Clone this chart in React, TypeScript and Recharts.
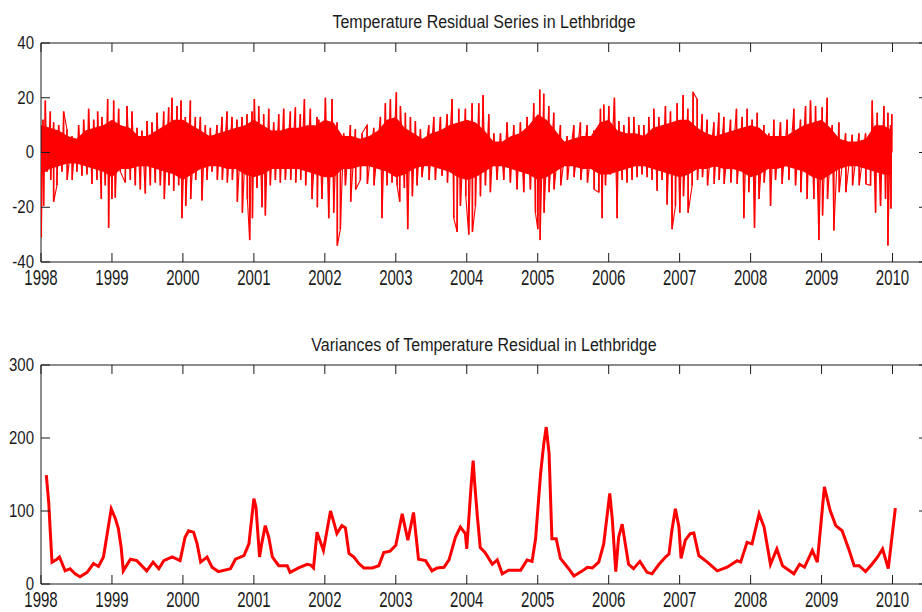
import React from 'react';
import { ComposedChart, Line, Bar, Area, XAxis, YAxis, ReferenceArea } from 'recharts';

// year ticks shared by both panels
const YEAR_TICKS = [1998, 1999, 2000, 2001, 2002, 2003, 2004, 2005, 2006, 2007, 2008, 2009, 2010];
const RESIDUAL_TICKS = [-40, -20, 0, 20, 40];
const VARIANCE_TICKS = [0, 100, 200, 300];

const TOP_TITLE = 'Temperature Residual Series in Lethbridge';
const BOTTOM_TITLE = 'Variances of Temperature Residual in Lethbridge';

// residual series: daily spikes [year, value]
const residualHighs1998 = [
  [1998.028, 12], [1998.061, 19], [1998.131, 15], [1998.178, 11], [1998.249, 10], [1998.319, 15], [1998.366, 8.5],
  [1998.437, 6], [1998.483, 5], [1998.53, 10], [1998.601, 12], [1998.671, 16], [1998.742, 12], [1998.798, 15],
  [1998.859, 13], [1998.939, 19.5], [1998.977, 10], [1999.024, 19], [1999.094, 16], [1999.212, 17], [1999.282, 15],
  [1999.353, 9], [1999.423, 8], [1999.494, 11.5], [1999.564, 11], [1999.635, 14.5], [1999.729, 15], [1999.799, 16.5],
  [1999.846, 20], [1999.917, 17], [1999.973, 19], [2000.034, 13], [2000.105, 19], [2000.175, 13], [2000.246, 13],
  [2000.316, 10], [2000.387, 9], [2000.48, 10], [2000.551, 13], [2000.621, 15], [2000.692, 13], [2000.762, 12],
  [2000.833, 13], [2000.903, 14], [2000.974, 15], [2001.007, 19.5], [2001.068, 17], [2001.138, 14], [2001.209, 16],
  [2001.279, 11], [2001.35, 14], [2001.42, 16], [2001.514, 15], [2001.585, 16.5], [2001.655, 14], [2001.712, 19.5],
  [2001.796, 16], [2001.89, 13],
];
const residualHighs2002 = [
  [2001.914, 12], [2002.008, 20], [2002.102, 19.5], [2002.172, 11], [2002.266, 7], [2002.36, 10], [2002.43, 8.5],
  [2002.524, 7], [2002.595, 10], [2002.689, 9], [2002.783, 13], [2002.853, 18], [2002.924, 19.5], [2003.008, 22],
  [2003.065, 17], [2003.135, 14.5], [2003.206, 13], [2003.276, 11.5], [2003.347, 8.5], [2003.464, 10], [2003.535, 13],
  [2003.629, 13], [2003.723, 14], [2003.793, 19.5], [2003.887, 16], [2003.981, 16], [2004.075, 18], [2004.169, 18],
  [2004.23, 21], [2004.31, 14], [2004.381, 7], [2004.475, 7], [2004.568, 11], [2004.662, 10], [2004.756, 11],
  [2004.85, 13], [2004.944, 18], [2005.029, 23], [2005.085, 21.5], [2005.156, 17], [2005.226, 14.5], [2005.32, 10],
  [2005.414, 6], [2005.508, 10], [2005.602, 11], [2005.696, 10], [2005.79, 8], [2005.884, 16],
];
const residualHighs2006 = [
  [2005.931, 17.5], [2006.002, 17], [2006.081, 20], [2006.143, 11.5], [2006.213, 10], [2006.283, 13], [2006.354, 13],
  [2006.424, 10], [2006.495, 10], [2006.565, 13], [2006.636, 16], [2006.706, 13], [2006.8, 17], [2006.871, 15],
  [2006.965, 18], [2007.049, 21], [2007.115, 16], [2007.19, 22], [2007.247, 19.5], [2007.317, 14], [2007.388, 12],
  [2007.482, 11], [2007.552, 14.5], [2007.623, 13], [2007.717, 12], [2007.801, 16], [2007.881, 13], [2007.952, 16],
  [2008.022, 12], [2008.093, 14.5], [2008.187, 10], [2008.257, 7], [2008.327, 12], [2008.421, 11], [2008.515, 12],
  [2008.609, 16], [2008.703, 12], [2008.774, 17], [2008.844, 19], [2008.915, 17], [2009.009, 16.5], [2009.079, 20],
  [2009.15, 10], [2009.244, 11], [2009.338, 7], [2009.432, 6.5], [2009.526, 7], [2009.62, 7], [2009.714, 19],
  [2009.784, 14.5], [2009.878, 17], [2009.935, 14.5], [2009.972, 10], [2009.99, 14],
];
const residualLows1998 = [
  [1998.004, -31], [1998.037, -19.5], [1998.084, -7], [1998.137, -10], [1998.178, -18], [1998.225, -12], [1998.296, -7],
  [1998.37, -10], [1998.44, -10], [1998.507, -7], [1998.577, -8.5], [1998.648, -8], [1998.718, -11.5], [1998.789, -10],
  [1998.85, -17], [1998.906, -12], [1998.953, -27.5], [1999.0, -17], [1999.047, -16.5], [1999.118, -7], [1999.188, -11],
  [1999.259, -10], [1999.329, -12], [1999.4, -13.5], [1999.47, -15], [1999.541, -12], [1999.611, -11], [1999.682, -12],
  [1999.738, -17], [1999.803, -12], [1999.87, -14], [1999.94, -12], [1999.987, -24], [2000.04, -19.5], [2000.11, -17],
  [2000.18, -10], [2000.269, -17.5], [2000.34, -10], [2000.41, -7], [2000.485, -10], [2000.556, -10], [2000.626, -11],
  [2000.697, -10], [2000.767, -18], [2000.838, -22], [2000.908, -17], [2000.941, -32], [2000.98, -24], [2001.044, -13],
  [2001.115, -20], [2001.162, -23], [2001.232, -12], [2001.303, -10], [2001.373, -11], [2001.444, -10], [2001.519, -10],
  [2001.59, -11], [2001.66, -10], [2001.73, -12], [2001.82, -17], [2001.895, -20],
];
const residualLows2002 = [
  [2001.961, -17], [2002.055, -24], [2002.125, -22], [2002.176, -34], [2002.219, -28], [2002.29, -12], [2002.365, -18],
  [2002.435, -13.5], [2002.501, -10], [2002.6, -11.5], [2002.694, -12], [2002.806, -24], [2002.877, -12], [2002.947, -11],
  [2003.018, -12], [2003.055, -18], [2003.121, -13], [2003.168, -28], [2003.234, -16], [2003.3, -12], [2003.37, -9],
  [2003.469, -10], [2003.558, -10], [2003.652, -8.5], [2003.728, -11], [2003.817, -24], [2003.864, -29], [2003.911, -19.5],
  [2003.986, -16], [2004.028, -30], [2004.08, -29], [2004.122, -19.5], [2004.193, -16], [2004.263, -12], [2004.333, -14.5],
  [2004.427, -10], [2004.521, -10], [2004.615, -11], [2004.709, -13.5], [2004.803, -14.5], [2004.897, -13.5], [2004.968, -22],
  [2005.001, -28], [2005.034, -32], [2005.09, -22], [2005.161, -14.5], [2005.231, -13.5], [2005.325, -12], [2005.419, -10],
  [2005.513, -9], [2005.607, -10], [2005.701, -11], [2005.795, -13.5], [2005.861, -14.5],
];
const residualLows2006 = [
  [2005.908, -24], [2005.955, -12], [2006.025, -8], [2006.119, -24], [2006.19, -10], [2006.26, -11], [2006.33, -10],
  [2006.401, -9], [2006.471, -8], [2006.542, -9], [2006.612, -10], [2006.683, -14], [2006.753, -10], [2006.824, -19],
  [2006.894, -28], [2006.941, -19.5], [2007.002, -22], [2007.054, -16], [2007.12, -22], [2007.176, -12], [2007.252, -10],
  [2007.322, -9], [2007.393, -12], [2007.487, -11.5], [2007.557, -10], [2007.628, -11.5], [2007.722, -11], [2007.811, -11.5],
  [2007.905, -24], [2007.975, -14.5], [2008.055, -27.5], [2008.12, -17], [2008.192, -11], [2008.281, -19.5], [2008.351, -10],
  [2008.445, -11.5], [2008.539, -10], [2008.633, -12], [2008.708, -14.5], [2008.797, -17], [2008.891, -17], [2008.962, -32],
  [2009.014, -23], [2009.084, -17], [2009.173, -28.5], [2009.249, -14.5], [2009.343, -14.5], [2009.437, -12], [2009.531, -12],
  [2009.625, -11.5], [2009.69, -12], [2009.761, -22], [2009.831, -19.5], [2009.901, -17], [2009.935, -34], [2009.978, -20.5],
];

// dense band that the daily lines fill solid around zero [year, low, high]
const residualCore = [
  [1998.0, -8, 10], [1998.125, -6, 9], [1998.25, -5, 8], [1998.375, -4, 6], [1998.5, -4, 5], [1998.625, -5, 8],
  [1998.75, -6, 9], [1998.875, -7, 10], [1999.0, -9, 12], [1999.125, -6, 10], [1999.25, -6, 9], [1999.375, -5, 6],
  [1999.5, -5, 6], [1999.625, -6, 8], [1999.75, -7, 10], [1999.875, -8, 12], [2000.0, -10, 12], [2000.125, -8, 10],
  [2000.25, -6, 8], [2000.375, -5, 6], [2000.5, -5, 7], [2000.625, -6, 8], [2000.75, -6, 9], [2000.875, -8, 10],
  [2001.0, -9, 12], [2001.125, -8, 10], [2001.25, -6, 8], [2001.375, -6, 8], [2001.5, -6, 9], [2001.625, -6, 9],
  [2001.75, -7, 10], [2001.875, -8, 10], [2002.0, -9, 12], [2002.125, -9, 11], [2002.25, -6, 6], [2002.375, -6, 6],
  [2002.5, -5, 5], [2002.625, -5, 6], [2002.75, -6, 8], [2002.875, -7, 12], [2003.0, -9, 13], [2003.125, -8, 9],
  [2003.25, -6, 7], [2003.375, -5, 5], [2003.5, -5, 7], [2003.625, -6, 8], [2003.75, -7, 10], [2003.875, -9, 11],
  [2004.0, -10, 12], [2004.125, -9, 11], [2004.25, -7, 8], [2004.375, -5, 4], [2004.5, -5, 4], [2004.625, -6, 6],
  [2004.75, -7, 7], [2004.875, -8, 10], [2005.0, -10, 14], [2005.125, -9, 12], [2005.25, -7, 8], [2005.375, -5, 4],
  [2005.5, -5, 5], [2005.625, -6, 6], [2005.75, -6, 6], [2005.875, -8, 11], [2006.0, -8, 12], [2006.125, -7, 8],
  [2006.25, -6, 7], [2006.375, -5, 7], [2006.5, -5, 6], [2006.625, -6, 9], [2006.75, -7, 10], [2006.875, -8, 11],
  [2007.0, -9, 12], [2007.125, -8, 12], [2007.25, -6, 9], [2007.375, -6, 7], [2007.5, -5, 6], [2007.625, -6, 7],
  [2007.75, -6, 8], [2007.875, -7, 9], [2008.0, -9, 10], [2008.125, -8, 9], [2008.25, -6, 6], [2008.375, -6, 6],
  [2008.5, -5, 6], [2008.625, -6, 8], [2008.75, -7, 10], [2008.875, -9, 11], [2009.0, -10, 12], [2009.125, -8, 9],
  [2009.25, -6, 5], [2009.375, -5, 4], [2009.5, -5, 4], [2009.625, -6, 5], [2009.75, -7, 10], [2009.875, -8, 10],
  [2009.99, -8, 8],
];

// variance series [year, value]
const variance1998 = [
  [1998.075, 149], [1998.11, 110], [1998.13, 73], [1998.155, 30], [1998.225, 34], [1998.26, 37], [1998.34, 18],
  [1998.41, 21], [1998.48, 14], [1998.55, 10], [1998.65, 16], [1998.74, 28], [1998.81, 24], [1998.88, 37],
  [1998.94, 73], [1998.99, 103], [1999.05, 89], [1999.09, 76], [1999.13, 50], [1999.16, 18], [1999.26, 34],
  [1999.35, 32], [1999.49, 18], [1999.58, 30], [1999.66, 21], [1999.73, 32], [1999.85, 37], [1999.96, 32],
  [2000.03, 64], [2000.08, 73], [2000.15, 71], [2000.2, 55], [2000.25, 30], [2000.34, 37], [2000.41, 23],
  [2000.5, 17], [2000.67, 21], [2000.74, 34], [2000.86, 39], [2000.93, 55], [2001.0, 117], [2001.03, 105],
  [2001.08, 37], [2001.11, 55], [2001.16, 80], [2001.21, 64], [2001.26, 37], [2001.35, 25], [2001.47, 25],
  [2001.51, 16], [2001.63, 22], [2001.75, 27], [2001.8, 26], [2001.84, 22], [2001.89, 71], [2001.98, 46],
];
const variance2002 = [
  [2002.08, 100], [2002.125, 85], [2002.17, 69], [2002.24, 80], [2002.29, 77], [2002.34, 42], [2002.41, 37],
  [2002.48, 28], [2002.55, 22], [2002.67, 22], [2002.76, 25], [2002.83, 43], [2002.92, 45], [2003.0, 53],
  [2003.09, 96], [2003.17, 60], [2003.25, 98], [2003.32, 34], [2003.42, 32], [2003.51, 18], [2003.58, 22],
  [2003.68, 23], [2003.75, 33], [2003.84, 64], [2003.91, 78], [2003.98, 69], [2004.0, 48], [2004.06, 133],
  [2004.09, 169], [2004.11, 140], [2004.15, 92], [2004.19, 50], [2004.26, 43], [2004.36, 27], [2004.43, 33],
  [2004.5, 14], [2004.59, 19], [2004.76, 19], [2004.85, 33], [2004.92, 31], [2004.97, 62], [2005.04, 151],
  [2005.085, 192], [2005.12, 215], [2005.16, 179], [2005.2, 62], [2005.26, 62], [2005.32, 35], [2005.42, 23],
  [2005.51, 11], [2005.63, 18], [2005.7, 23], [2005.77, 22], [2005.86, 30], [2005.93, 55],
];
const variance2006 = [
  [2006.015, 124], [2006.05, 90], [2006.1, 17], [2006.14, 64], [2006.19, 82], [2006.28, 27], [2006.35, 21],
  [2006.44, 31], [2006.54, 16], [2006.61, 14], [2006.71, 27], [2006.8, 37], [2006.85, 41], [2006.89, 73],
  [2006.94, 103], [2006.99, 78], [2007.02, 35], [2007.08, 60], [2007.15, 69], [2007.2, 70], [2007.27, 39],
  [2007.39, 30], [2007.53, 18], [2007.67, 23], [2007.81, 32], [2007.86, 30], [2007.95, 57], [2008.02, 55],
  [2008.12, 96], [2008.19, 78], [2008.28, 27], [2008.37, 48], [2008.45, 25], [2008.61, 14], [2008.69, 27],
  [2008.76, 23], [2008.87, 46], [2008.94, 30], [2009.04, 133], [2009.12, 101], [2009.2, 80], [2009.29, 73],
  [2009.39, 46], [2009.46, 25], [2009.53, 25], [2009.62, 17], [2009.71, 27], [2009.79, 37], [2009.86, 48],
  [2009.94, 21], [2010.04, 104],
];

type Row = { t: number; v?: number; core?: [number, number] };

const byTime = (a: Row, b: Row) => a.t - b.t;

const residualData: Row[] = [
  ...[...residualHighs1998, ...residualHighs2002, ...residualHighs2006,
    ...residualLows1998, ...residualLows2002, ...residualLows2006].map(([t, v]) => ({ t, v })),
  ...residualCore.map(([t, lo, hi]) => ({ t, core: [lo, hi] as [number, number] })),
].sort(byTime);

const varianceData: Row[] = [...variance1998, ...variance2002, ...variance2006]
  .map(([t, v]) => ({ t, v }))
  .sort(byTime);

const FONT = '"Liberation Sans", Arial, Helvetica, sans-serif';
const INK = '#1a1a1a';
const RED = '#ff0000';
const TICK_LEN = 9;
const CHART_W = 940;
const CHART_H = 292;
const MARGIN = { top: 43, right: 12, bottom: 0, left: 0 };
const Y_AXIS_W = 41;
const X_AXIS_H = 30;
const PLOT_W = CHART_W - MARGIN.right - MARGIN.left - Y_AXIS_W;
const PLOT_H = CHART_H - MARGIN.top - MARGIN.bottom - X_AXIS_H;
const X_DOMAIN: [number, number] = [1998, 2010.5];

// MATLAB style: ticks point inward, on both opposite sides of the box
const YearTick = (props: any) => {
  const { x, y, payload } = props;
  return (
    <g>
      <line x1={x} x2={x} y1={y} y2={y - TICK_LEN} stroke={INK} />
      <line x1={x} x2={x} y1={y - PLOT_H} y2={y - PLOT_H + TICK_LEN} stroke={INK} />
      <text
        transform={`translate(${x},${y + 23}) scale(1,1.5)`}
        textAnchor="middle"
        fontFamily={FONT}
        fontSize={15}
        fill={INK}
      >
        {payload.value}
      </text>
    </g>
  );
};

const ValueTick = (props: any) => {
  const { x, y, payload } = props;
  return (
    <g>
      <line x1={x} x2={x + TICK_LEN} y1={y} y2={y} stroke={INK} />
      <line x1={x + PLOT_W} x2={x + PLOT_W - TICK_LEN} y1={y} y2={y} stroke={INK} />
      <text
        transform={`translate(${x - 7},${y - 1}) scale(1,1.25)`}
        textAnchor="end"
        dy="0.36em"
        fontFamily={FONT}
        fontSize={15}
        fill={INK}
      >
        {payload.value}
      </text>
    </g>
  );
};

// one daily value drawn as a thin vertical stroke from zero, like a stem
const Stem = (props: any) => {
  const { x, y, width, height } = props;
  if (x == null || y == null || height == null) return null;
  const top = Math.min(y, y + height);
  const h = Math.abs(height);
  const cx = x + (width || 0) / 2;
  return <rect x={cx - 0.8} y={top} width={1.6} height={h} fill={RED} />;
};

interface PanelProps {
  data: Row[];
  yDomain: [number, number];
  yTicks: number[];
  children: React.ReactNode;
}

const Panel: React.FC<PanelProps> = ({ data, yDomain, yTicks, children }) => (
  <ComposedChart width={CHART_W} height={CHART_H} data={data} margin={MARGIN}>
    <XAxis
      dataKey="t"
      type="number"
      domain={X_DOMAIN}
      ticks={YEAR_TICKS}
      interval={0}
      allowDataOverflow
      axisLine={false}
      tickLine={false}
      tickSize={0}
      tickMargin={0}
      height={X_AXIS_H}
      tick={<YearTick />}
    />
    <YAxis
      type="number"
      domain={yDomain}
      ticks={yTicks}
      interval={0}
      allowDataOverflow
      axisLine={false}
      tickLine={false}
      tickSize={0}
      tickMargin={0}
      width={Y_AXIS_W}
      tick={<ValueTick />}
    />
    {children}
    <ReferenceArea
      x1={X_DOMAIN[0]}
      x2={X_DOMAIN[1]}
      y1={yDomain[0]}
      y2={yDomain[1]}
      fill="none"
      fillOpacity={0}
      stroke={INK}
      strokeWidth={1}
      strokeOpacity={1}
    />
  </ComposedChart>
);

export default function App() {
  return (
    <div
      style={{
        position: 'absolute',
        left: 0,
        top: 0,
        width: 922,
        height: 612,
        overflow: 'hidden',
        background: '#fff',
      }}
    >
      <div style={{ position: 'absolute', left: 0, top: 0 }}>
        <Panel data={residualData} yDomain={[-40, 40]} yTicks={RESIDUAL_TICKS}>
          <Area
            type="linear"
            dataKey="core"
            stroke="none"
            fill={RED}
            fillOpacity={1}
            connectNulls
            dot={false}
            activeDot={false}
            isAnimationActive={false}
          />
          <Line
            type="linear"
            dataKey="v"
            stroke={RED}
            strokeWidth={1.1}
            connectNulls
            dot={false}
            activeDot={false}
            isAnimationActive={false}
          />
          <Bar dataKey="v" fill={RED} shape={<Stem />} isAnimationActive={false} />
        </Panel>
      </div>
      <div style={{ position: 'absolute', left: 0, top: 322 }}>
        <Panel data={varianceData} yDomain={[0, 300]} yTicks={VARIANCE_TICKS}>
          <Line
            type="linear"
            dataKey="v"
            stroke={RED}
            strokeWidth={3}
            dot={false}
            activeDot={false}
            isAnimationActive={false}
          />
        </Panel>
      </div>
      <svg
        width={922}
        height={612}
        style={{ position: 'absolute', left: 0, top: 0, pointerEvents: 'none' }}
      >
        <text
          transform="translate(484,27.7) scale(1,1.17)"
          textAnchor="middle"
          fontFamily={FONT}
          fontSize={16}
          fill={INK}
        >
          {TOP_TITLE}
        </text>
        <text
          transform="translate(484,350.7) scale(1,1.17)"
          textAnchor="middle"
          fontFamily={FONT}
          fontSize={16}
          fill={INK}
        >
          {BOTTOM_TITLE}
        </text>
      </svg>
    </div>
  );
}
